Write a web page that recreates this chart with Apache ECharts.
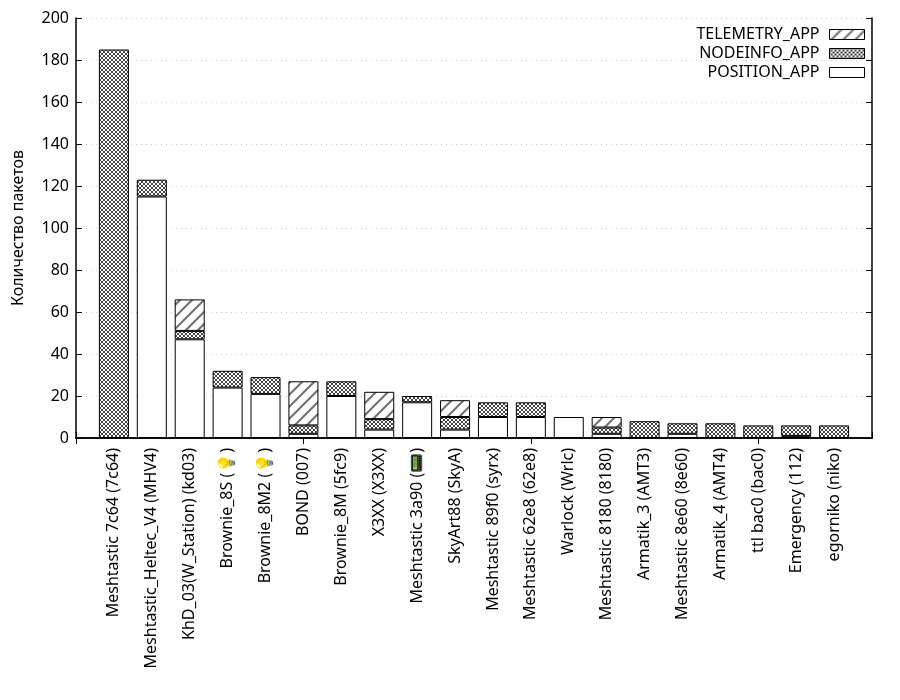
<!DOCTYPE html>
<html>
<head>
<meta charset="utf-8">
<script src="https://cdn.jsdelivr.net/npm/echarts@6/dist/echarts.min.js"></script>
<style>
  html, body { margin: 0; padding: 0; background: #fff; }
  #chart { width: 900px; height: 700px; }
</style>
</head>
<body>
<div id="chart"></div>
<script>
// nodes, sorted by packet count
var nodes = [
  'Meshtastic 7c64 (7c64)', 'Meshtastic_Heltec_V4 (MHV4)', 'KhD_03(W_Station) (kd03)',
  'Brownie_8S (💡)', 'Brownie_8M2 (💡)', 'BOND (007)', 'Brownie_8M (5fc9)',
  'X3XX (X3XX)', 'Meshtastic 3a90 (📟)', 'SkyArt88 (SkyA)', 'Meshtastic 89f0 (syrx)',
  'Meshtastic 62e8 (62e8)', 'Warlock (Wrlc)', 'Meshtastic 8180 (8180)', 'Armatik_3 (AMT3)',
  'Meshtastic 8e60 (8e60)', 'Armatik_4 (AMT4)', 'ttl bac0 (bac0)', 'Emergency (112)', 'egorniko (niko)'
];
var positionApp  = [0, 115, 47, 24, 21, 2, 20, 4, 17, 4, 10, 10, 10, 2, 0, 2, 0, 0, 1, 0];
var nodeinfoApp  = [185, 8, 4, 8, 8, 4, 7, 5, 3, 6, 7, 7, 0, 3, 8, 5, 7, 6, 5, 6];
var telemetryApp = [0, 0, 15, 0, 0, 21, 0, 13, 0, 8, 0, 0, 0, 5, 0, 0, 0, 0, 0, 0];
var yTicks = [0, 20, 40, 60, 80, 100, 120, 140, 160, 180, 200];

var FONT = 'Noto Sans';
var FS = 16;

// gnuplot-like fill patterns
function crossPattern() {
  var c = document.createElement('canvas');
  c.width = 4; c.height = 4;
  var g = c.getContext('2d');
  g.fillStyle = '#fff';
  g.fillRect(0, 0, 4, 4);
  g.strokeStyle = '#444';
  g.lineWidth = 1;
  g.beginPath();
  g.moveTo(0, 0); g.lineTo(4, 4);
  g.moveTo(0, 4); g.lineTo(4, 0);
  g.stroke();
  return c;
}
function hatchPattern() {
  var s = 12;
  var c = document.createElement('canvas');
  c.width = s; c.height = s;
  var g = c.getContext('2d');
  g.fillStyle = '#fff';
  g.fillRect(0, 0, s, s);
  g.strokeStyle = '#707070';
  g.lineWidth = 2;
  g.beginPath();
  g.moveTo(-2, s + 2); g.lineTo(s + 2, -2);
  g.moveTo(-2, 2); g.lineTo(2, -2);
  g.moveTo(s - 2, s + 2); g.lineTo(s + 2, s - 2);
  g.stroke();
  return c;
}

// pad one empty slot on each side (x range -1 .. 20)
var cats = [''].concat(nodes).concat(['']);
function padded(arr) {
  return [null].concat(arr.map(function (v) { return v === 0 ? null : v; })).concat([null]);
}

function barSeries(name, data, fill) {
  return {
    name: name,
    type: 'bar',
    stack: 'total',
    barWidth: 30,
    data: padded(data),
    itemStyle: { color: fill, borderColor: '#000', borderWidth: 1 },
    emphasis: { disabled: true }
  };
}

var chart = echarts.init(document.getElementById('chart'));
var option = {
  animation: false,
  textStyle: { fontFamily: FONT, color: '#000' },
  grid: { left: 76, right: 28, top: 18, bottom: 262 },
  legend: {
    orient: 'vertical',
    right: 30,
    top: 20,
    align: 'right',
    itemWidth: 35,
    itemHeight: 10,
    itemGap: 0,
    icon: 'rect',
    textStyle: { fontFamily: FONT, fontSize: FS, color: '#000', lineHeight: 19, padding: [0, 5, 0, 0] },
    itemStyle: { borderColor: '#000', borderWidth: 1 },
    data: ['TELEMETRY_APP', 'NODEINFO_APP', 'POSITION_APP']
  },
  xAxis: [{
    type: 'category',
    data: cats,
    boundaryGap: false,
    axisLine: { lineStyle: { color: '#000', width: 1.5 } },
    axisTick: { inside: true, length: 6, lineStyle: { color: '#000' } },
    axisLabel: { interval: 0, rotate: 90, margin: 10, fontSize: FS, color: '#000', fontFamily: FONT },
    splitLine: { show: false }
  }, {
    type: 'category',
    data: cats,
    position: 'top',
    boundaryGap: false,
    axisLine: { lineStyle: { color: '#000', width: 1.5 } },
    axisTick: { inside: true, length: 6, lineStyle: { color: '#000' } },
    axisLabel: { show: false },
    splitLine: { show: false }
  }],
  yAxis: [{
    type: 'value',
    min: yTicks[0],
    max: yTicks[yTicks.length - 1],
    interval: yTicks[1] - yTicks[0],
    name: 'Количество пакетов',
    nameLocation: 'middle',
    nameGap: 50,
    nameRotate: 90,
    nameTextStyle: { fontSize: FS, color: '#000', fontFamily: FONT },
    axisLine: { show: true, lineStyle: { color: '#000', width: 1.5 } },
    axisTick: { show: true, inside: true, length: 6, lineStyle: { color: '#000' } },
    axisLabel: { fontSize: FS, color: '#000', margin: 7, fontFamily: FONT },
    splitLine: { show: true, lineStyle: { color: '#c8c8c8', type: [1, 4], width: 1 } }
  }, {
    type: 'value',
    position: 'right',
    min: yTicks[0],
    max: yTicks[yTicks.length - 1],
    interval: yTicks[1] - yTicks[0],
    axisLine: { show: true, lineStyle: { color: '#000', width: 1.5 } },
    axisTick: { show: true, inside: true, length: 6, lineStyle: { color: '#000' } },
    axisLabel: { show: false },
    splitLine: { show: false }
  }],
  series: [
    barSeries('POSITION_APP', positionApp, '#fff'),
    barSeries('NODEINFO_APP', nodeinfoApp, { image: crossPattern(), repeat: 'repeat' }),
    barSeries('TELEMETRY_APP', telemetryApp, { image: hatchPattern(), repeat: 'repeat' })
  ]
};
chart.setOption(option);
</script>
</body>
</html>
